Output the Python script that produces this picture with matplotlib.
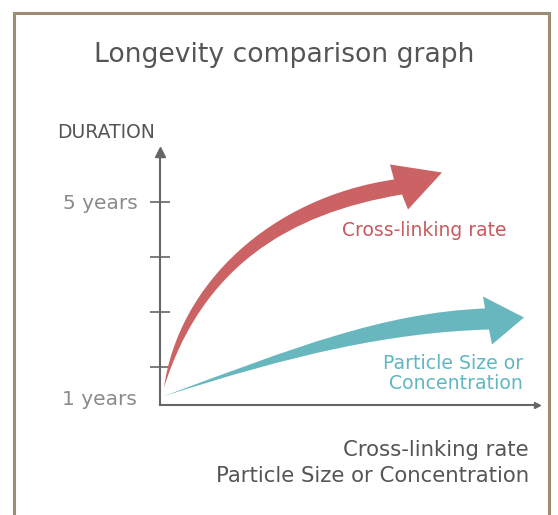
import numpy as np
import matplotlib
matplotlib.use("Agg")
import matplotlib.pyplot as plt
from matplotlib.path import Path
from matplotlib.patches import PathPatch, Rectangle

plt.rcParams['font.family'] = ['DejaVu Sans']

# Curved arrows, drawn as cubic Bezier outlines (x: arbitrary units, y: years)
# outer edge: start, handle, handle, end  /  inner edge: end, handle, handle (back to start)
red_outer_x = [0.106, 0.496, 2.950, 6.207]
red_outer_y = [1.618, 3.509, 5.073, 5.400]
red_inner_x = [6.419, 3.347, 1.101]
red_inner_y = [5.127, 4.778, 3.777]
red_head_x = [6.101, 7.480, 6.578]
red_head_y = [5.673, 5.527, 4.855]

cyan_outer_x = [0.080, 3.528, 5.942, 8.621]
cyan_outer_y = [1.455, 2.336, 2.982, 3.055]
cyan_inner_x = [8.727, 6.101, 3.528]
cyan_inner_y = [2.673, 2.618, 2.218]
cyan_head_x = [8.568, 9.655, 8.806]
cyan_head_y = [3.273, 2.891, 2.400]

y_ticks = [2, 3, 4, 5]
y_ticklabels = ['', '', '', '5 years']
origin_label = '1 years'

title = 'Longevity comparison graph'
y_title = 'DURATION'
red_label = 'Cross-linking rate'
cyan_label = 'Particle Size or\nConcentration'
legend_lines = ['Cross-linking rate', 'Particle Size or Concentration']

RED = '#cb6264'
CYAN = '#68b7bf'
AXIS = '#666666'
TEXT = '#555555'


def draw_arrow(ax, ox, oy, ix, iy, hx, hy, color):
    outer = list(zip(ox, oy))
    inner = list(zip(ix, iy))
    head = list(zip(hx, hy))
    verts = outer + [head[0], head[1], head[2]] + inner + [outer[0], outer[0]]
    codes = ([Path.MOVETO] + [Path.CURVE4] * 3 + [Path.LINETO] * 4
             + [Path.CURVE4] * 3 + [Path.CLOSEPOLY])
    ax.add_patch(PathPatch(Path(verts, codes), facecolor=color,
                           edgecolor='none', clip_on=False, zorder=3))


fig = plt.figure(figsize=(5.58, 5.15), dpi=100)
W, H = 558, 515

# frame around the card
fig.patches.append(Rectangle((13.5 / W, -0.1), 535 / W, 1.1 - 12.5 / H,
                             transform=fig.transFigure, fill=False,
                             edgecolor='#9c8c72', linewidth=2.2))

ax = fig.add_axes([160 / W, 110 / H, 377 / W, 253 / H])
ax.set_xlim(0, 10)
ax.set_ylim(1.3, 5.9)
for s in ['top', 'right']:
    ax.spines[s].set_visible(False)
for s in ['left', 'bottom']:
    ax.spines[s].set_color(AXIS)
    ax.spines[s].set_linewidth(1.5)
ax.set_xticks([])
ax.set_yticks(y_ticks)
ax.set_yticklabels(y_ticklabels)
ax.tick_params(axis='y', direction='inout', length=14, width=1.2,
               color=AXIS, pad=9, labelsize=14.5, labelcolor='#8a8a8a')
ax.text(-0.061, 0.02, origin_label, transform=ax.transAxes, ha='right',
        va='center', fontsize=14.5, color='#8a8a8a')

# axis arrowheads
ax.plot([0], [1], marker='^', markersize=7, color=AXIS,
        transform=ax.transAxes, clip_on=False)
ax.plot([1], [0], marker='>', markersize=5, color=AXIS,
        transform=ax.transAxes, clip_on=False)

draw_arrow(ax, red_outer_x, red_outer_y, red_inner_x, red_inner_y,
           red_head_x, red_head_y, RED)
draw_arrow(ax, cyan_outer_x, cyan_outer_y, cyan_inner_x, cyan_inner_y,
           cyan_head_x, cyan_head_y, CYAN)

fig.text(284 / W, 1 - 55 / H, title, ha='center', va='center',
         fontsize=19.2, color=TEXT)
fig.text(57 / W, 1 - 133 / H, y_title, ha='left', va='center',
         fontsize=13.5, color=TEXT)
fig.text(507 / W, 1 - 230 / H, red_label, ha='right', va='center',
         fontsize=13.5, color='#c85a5e')
fig.text(523 / W, 1 - 373.5 / H, cyan_label, ha='right', va='center',
         fontsize=13.6, color='#5fb8c2', linespacing=1.1)
fig.text(529 / W, 1 - 463 / H, '\n'.join(legend_lines), ha='right',
         va='center', fontsize=15.3, color=TEXT, linespacing=1.32)

fig.savefig('out.png', dpi=100, facecolor='white')
